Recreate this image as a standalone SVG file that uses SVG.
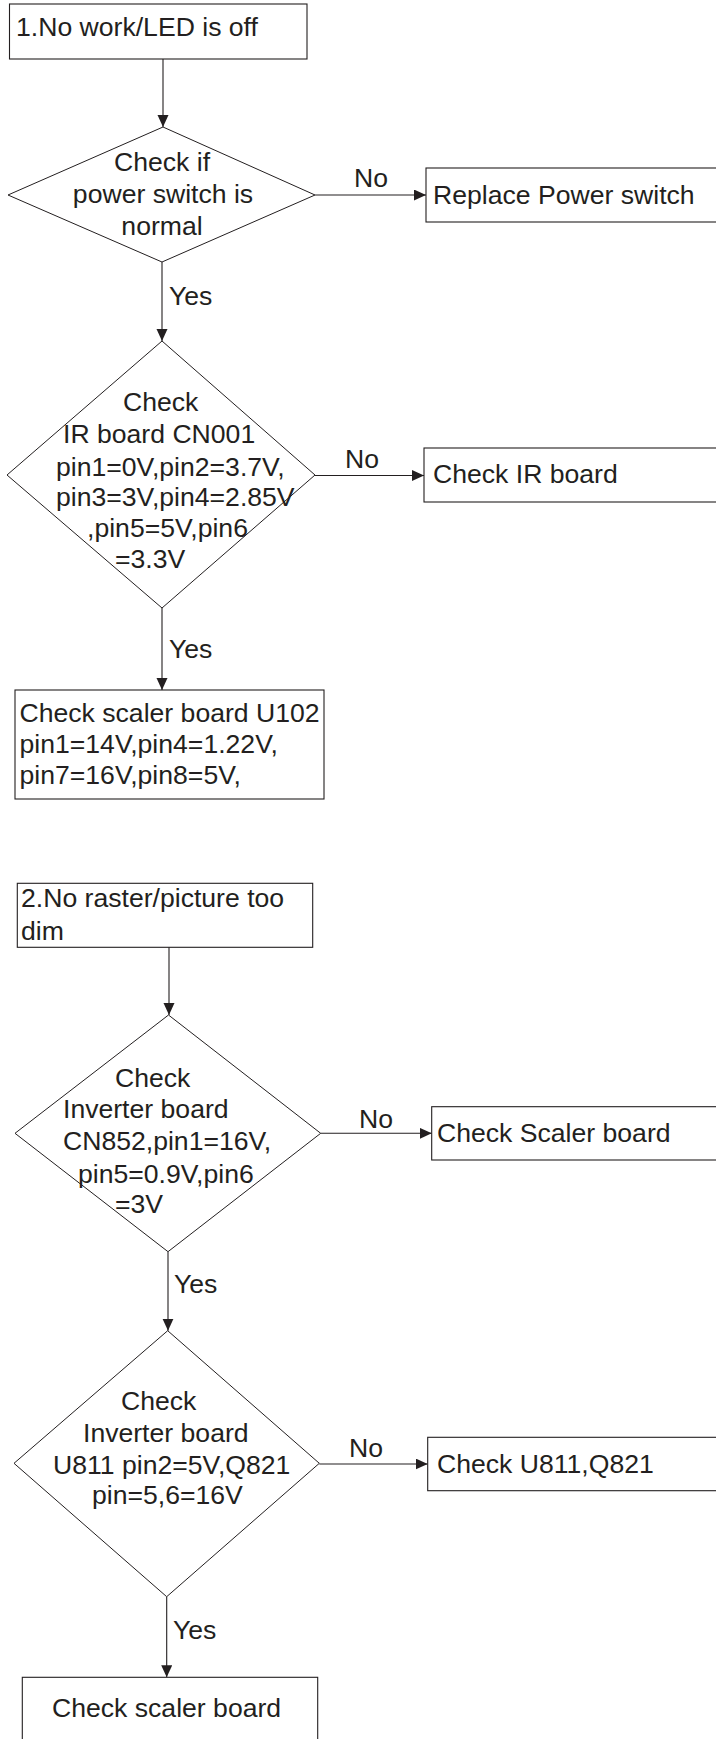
<svg xmlns="http://www.w3.org/2000/svg" width="716" height="1739" viewBox="0 0 716 1739">
<style>
.box{fill:#fff;stroke:#231f20;stroke-width:1.1}
.dia{fill:#fff;stroke:#231f20;stroke-width:1}
.ln{fill:none;stroke:#231f20;stroke-width:1.1}
text{font-family:"Liberation Sans",Arial,Helvetica,sans-serif;font-size:26.6px;fill:#231f20}
</style>
<defs>
<marker id="ah" markerUnits="userSpaceOnUse" markerWidth="13" markerHeight="12" refX="12" refY="5.5" orient="auto">
<path d="M0,0 L12,5.5 L0,11 Z" fill="#231f20"/>
</marker>
</defs>
<rect width="716" height="1739" fill="#fff"/>
<g id="connectors">
<line class="ln" x1="163" y1="59" x2="163" y2="127" marker-end="url(#ah)"/>
<line class="ln" x1="315" y1="195" x2="426" y2="195" marker-end="url(#ah)"/>
<text x="354" y="187">No</text>
<line class="ln" x1="162" y1="262" x2="162" y2="341" marker-end="url(#ah)"/>
<text x="169" y="305">Yes</text>
<line class="ln" x1="315" y1="475.5" x2="424" y2="475.5" marker-end="url(#ah)"/>
<text x="345" y="468">No</text>
<line class="ln" x1="162" y1="608" x2="162" y2="690" marker-end="url(#ah)"/>
<text x="169" y="658">Yes</text>
<line class="ln" x1="169" y1="947" x2="169" y2="1015" marker-end="url(#ah)"/>
<line class="ln" x1="320.7" y1="1133.3" x2="431.7" y2="1133.3" marker-end="url(#ah)"/>
<text x="359" y="1128">No</text>
<line class="ln" x1="168" y1="1252" x2="168" y2="1330.7" marker-end="url(#ah)"/>
<text x="174" y="1293">Yes</text>
<line class="ln" x1="319.3" y1="1464" x2="427.7" y2="1464" marker-end="url(#ah)"/>
<text x="349" y="1457">No</text>
<line class="ln" x1="166.7" y1="1596.7" x2="166.7" y2="1677.3" marker-end="url(#ah)"/>
<text x="173" y="1639">Yes</text>
</g>
<g id="n1">
<rect class="box" x="9.5" y="4" width="297.5" height="55"/>
<text x="16" y="36">1.No work/LED is off</text>
</g>
<g id="d1">
<polygon class="dia" points="163,127 315,195 162,262 8,195"/>
<text x="162" y="171" text-anchor="middle">Check if</text>
<text x="163" y="203" text-anchor="middle">power switch is</text>
<text x="162" y="235" text-anchor="middle">normal</text>
</g>
<g id="n2">
<rect class="box" x="426" y="168" width="310" height="54"/>
<text x="433" y="204">Replace Power switch</text>
</g>
<g id="d2">
<polygon class="dia" points="162,341 315,475 162,608 7,475"/>
<text x="123" y="411">Check</text>
<text x="63" y="443">IR board CN001</text>
<text x="56" y="476">pin1=0V,pin2=3.7V,</text>
<text x="56" y="506">pin3=3V,pin4=2.85V</text>
<text x="87" y="537">,pin5=5V,pin6</text>
<text x="115" y="568">=3.3V</text>
</g>
<g id="n3">
<rect class="box" x="424" y="448" width="310" height="54"/>
<text x="433" y="483">Check IR board</text>
</g>
<g id="n4">
<rect class="box" x="15" y="690" width="309" height="109"/>
<text x="19.5" y="722">Check scaler board U102</text>
<text x="19.5" y="753">pin1=14V,pin4=1.22V,</text>
<text x="19.5" y="784">pin7=16V,pin8=5V,</text>
</g>
<g id="n5">
<rect class="box" x="17.3" y="883.3" width="295.4" height="64"/>
<text x="21" y="907">2.No raster/picture too</text>
<text x="21" y="940">dim</text>
</g>
<g id="d3">
<polygon class="dia" points="168.5,1015 320.7,1133.3 168,1251.7 15,1133.3"/>
<text x="115" y="1087">Check</text>
<text x="63" y="1118">Inverter board</text>
<text x="63" y="1150">CN852,pin1=16V,</text>
<text x="78" y="1183">pin5=0.9V,pin6</text>
<text x="115" y="1213">=3V</text>
</g>
<g id="n6">
<rect class="box" x="431.7" y="1106.7" width="310" height="53.3"/>
<text x="437" y="1142">Check Scaler board</text>
</g>
<g id="d4">
<polygon class="dia" points="167.7,1330.7 319.3,1463.3 166.7,1596.7 14,1463.3"/>
<text x="121" y="1410">Check</text>
<text x="83" y="1442">Inverter board</text>
<text x="53" y="1474">U811 pin2=5V,Q821</text>
<text x="92" y="1504">pin=5,6=16V</text>
</g>
<g id="n7">
<rect class="box" x="427.7" y="1437.3" width="310" height="53.4"/>
<text x="437" y="1473">Check U811,Q821</text>
</g>
<g id="n8">
<rect class="box" x="22.3" y="1677.3" width="295.4" height="90"/>
<text x="52" y="1717">Check scaler board</text>
</g>
</svg>
